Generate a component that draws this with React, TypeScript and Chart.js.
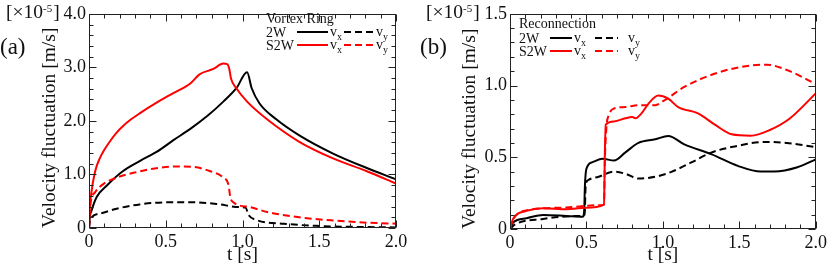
import React, { useEffect, useRef } from "react";
import { Chart, registerables } from "chart.js";

Chart.register(...registerables);

// ---------- Panel (a): Vortex Ring ----------
const tA_2W_vx = [0, 0.005, 0.017, 0.05, 0.115, 0.22, 0.33, 0.44, 0.55, 0.66, 0.77, 0.875, 0.96, 1.03, 1.06, 1.11, 1.22, 1.37, 1.59, 1.81, 2.0];
const vA_2W_vx = [0, 0.2, 0.33, 0.58, 0.79, 1.06, 1.25, 1.42, 1.64, 1.85, 2.09, 2.36, 2.61, 2.91, 2.61, 2.33, 2.03, 1.73, 1.39, 1.12, 0.91];

const tA_2W_vy = [0, 0.007, 0.07, 0.18, 0.33, 0.51, 0.68, 0.83, 0.98, 1.02, 1.04, 1.09, 1.27, 1.48, 2.0];
const vA_2W_vy = [0, 0.15, 0.27, 0.36, 0.44, 0.48, 0.48, 0.45, 0.39, 0.38, 0.24, 0.15, 0.08, 0.04, 0.01];

const tA_S2W_vx = [0, 0.005, 0.015, 0.04, 0.07, 0.1, 0.137, 0.18, 0.22, 0.27, 0.33, 0.44, 0.55, 0.66, 0.72, 0.81, 0.875, 0.9, 0.914, 0.925, 0.96, 1.03, 1.16, 1.37, 1.59, 1.81, 2.0];
const vA_S2W_vx = [0, 0.35, 0.65, 1.06, 1.3, 1.46, 1.62, 1.78, 1.9, 2.02, 2.14, 2.34, 2.52, 2.7, 2.87, 2.97, 3.07, 3.06, 2.97, 2.79, 2.61, 2.36, 2.03, 1.61, 1.3, 1.06, 0.83];

const tA_S2W_vy = [0, 0.007, 0.04, 0.093, 0.18, 0.29, 0.4, 0.57, 0.68, 0.79, 0.875, 0.91, 0.92, 0.94, 1.05, 1.16, 1.37, 1.59, 1.81, 2.0];
const vA_S2W_vy = [0, 0.39, 0.67, 0.82, 0.94, 1.03, 1.1, 1.15, 1.14, 1.06, 0.94, 0.79, 0.58, 0.48, 0.39, 0.3, 0.2, 0.14, 0.1, 0.08];

// ---------- Panel (b): Reconnection ----------
const tB_2W_vx = [0, 0.02, 0.108, 0.216, 0.367, 0.475, 0.485, 0.49, 0.5, 0.54, 0.605, 0.68, 0.755, 0.84, 0.95, 1.035, 1.14, 1.32, 1.49, 1.64, 1.73, 1.88, 2.0];
const vB_2W_vx = [0, 0.046, 0.075, 0.098, 0.091, 0.085, 0.12, 0.3, 0.42, 0.466, 0.49, 0.477, 0.534, 0.6, 0.625, 0.648, 0.59, 0.52, 0.44, 0.4, 0.4, 0.43, 0.485];

const tB_2W_vy = [0, 0.03, 0.216, 0.43, 0.488, 0.495, 0.51, 0.58, 0.68, 0.755, 0.84, 0.95, 1.06, 1.19, 1.32, 1.49, 1.66, 1.81, 2.0];
const vB_2W_vy = [0, 0.03, 0.07, 0.09, 0.095, 0.3, 0.34, 0.364, 0.4, 0.385, 0.352, 0.364, 0.4, 0.466, 0.534, 0.58, 0.607, 0.6, 0.57];

const tB_S2W_vx = [0, 0.02, 0.108, 0.216, 0.367, 0.496, 0.615, 0.62, 0.626, 0.68, 0.755, 0.8, 0.82, 0.86, 0.906, 0.97, 1.035, 1.1, 1.23, 1.34, 1.45, 1.575, 1.7, 1.83, 2.0];
const vB_S2W_vx = [0, 0.07, 0.126, 0.144, 0.137, 0.148, 0.17, 0.5, 0.727, 0.75, 0.772, 0.78, 0.772, 0.806, 0.874, 0.93, 0.908, 0.85, 0.806, 0.727, 0.66, 0.65, 0.69, 0.77, 0.945];

const tB_S2W_vy = [0, 0.02, 0.15, 0.367, 0.58, 0.615, 0.62, 0.63, 0.647, 0.68, 0.755, 0.84, 0.95, 1.01, 1.056, 1.14, 1.36, 1.575, 1.68, 1.83, 2.0];
const vB_S2W_vy = [0, 0.07, 0.137, 0.15, 0.166, 0.17, 0.45, 0.7, 0.795, 0.84, 0.85, 0.863, 0.863, 0.897, 0.93, 0.99, 1.09, 1.14, 1.145, 1.1, 1.01];

// ---------- Axis / label text ----------
const xTitle = "t [s]";
const yTitle = "Velocity fluctuation [m/s]";
const legendRowLabels = ["2W", "S2W"];
const panelLabels = ["(a)", "(b)"];
const legendTitles = ["Vortex Ring", "Reconnection"];

const SERIF = '"Liberation Serif", "Times New Roman", serif';
const RED = "#ff0000";
const BLACK = "#000000";

const pts = (t: number[], v: number[]) => t.map((x, i) => ({ x, y: v[i] }));

const tickLabel = (v: number) => (Math.abs(v) < 1e-9 ? "0" : Number(v).toFixed(1));

const decorPlugin = {
  id: "decor",
  afterDraw(chart: any, _args: any, opts: any) {
    const { ctx, chartArea } = chart;
    const { left, right, top, bottom } = chartArea;
    const xs = chart.scales.x;
    const ys = chart.scales.y;
    ctx.save();
    // frame
    ctx.strokeStyle = "#222";
    ctx.lineWidth = 1;
    const L = Math.round(left) + 0.5;
    const R = Math.round(right) - 0.5;
    const T = Math.round(top) + 0.5;
    const B = Math.round(bottom) - 0.5;
    ctx.strokeRect(L, T, R - L, B - T);
    // inward ticks on all four sides
    ctx.beginPath();
    const nx = Math.round((xs.max - xs.min) / opts.xMinor);
    for (let i = 0; i <= nx; i++) {
      const v = xs.min + i * opts.xMinor;
      const major = Math.abs(v / opts.xMajor - Math.round(v / opts.xMajor)) < 1e-6;
      const len = major ? 7 : 4;
      const px = Math.round(xs.getPixelForValue(v)) + 0.5;
      ctx.moveTo(px, B);
      ctx.lineTo(px, B - len);
      ctx.moveTo(px, T);
      ctx.lineTo(px, T + len);
    }
    const ny = Math.round((ys.max - ys.min) / opts.yMinor);
    for (let i = 0; i <= ny; i++) {
      const v = ys.min + i * opts.yMinor;
      const major = Math.abs(v / opts.yMajor - Math.round(v / opts.yMajor)) < 1e-6;
      const len = major ? 7 : 4;
      const py = Math.round(ys.getPixelForValue(v)) + 0.5;
      ctx.moveTo(L, py);
      ctx.lineTo(L + len, py);
      ctx.moveTo(R, py);
      ctx.lineTo(R - len, py);
    }
    ctx.stroke();

    // panel label and exponent
    ctx.fillStyle = "#111";
    ctx.textBaseline = "alphabetic";
    ctx.textAlign = "left";
    ctx.font = `23px ${SERIF}`;
    ctx.fillText(opts.panel, 0, 54);
    ctx.font = `19.5px ${SERIF}`;
    let ex = 6;
    const base = "[\u00d710";
    ctx.fillText(base, ex, 18);
    ex += ctx.measureText(base).width;
    ctx.font = `11px ${SERIF}`;
    ctx.fillText("-5", ex, 12);
    ex += ctx.measureText("-5").width + 1;
    ctx.font = `19.5px ${SERIF}`;
    ctx.fillText("]", ex, 18);

    // legend
    const lg = opts.legend;
    ctx.font = `14px ${SERIF}`;
    ctx.textBaseline = "middle";
    ctx.fillText(lg.title, lg.x, lg.titleY);
    lg.rows.forEach((row: any, r: number) => {
      const yRow = lg.rowY[r];
      ctx.font = `14px ${SERIF}`;
      ctx.fillStyle = "#111";
      ctx.textBaseline = "middle";
      ctx.fillText(row.label, lg.x, yRow + 1);
      const drawSample = (dsIndex: number, x0: number, x1: number, sub: string, tx: number) => {
        const ds = chart.data.datasets[dsIndex];
        ctx.save();
        ctx.strokeStyle = ds.borderColor;
        ctx.lineWidth = 2;
        ctx.setLineDash(ds.borderDash || []);
        ctx.beginPath();
        ctx.moveTo(x0, yRow);
        ctx.lineTo(x1, yRow);
        ctx.stroke();
        ctx.restore();
        ctx.fillStyle = "#111";
        ctx.font = `14px ${SERIF}`;
        ctx.textBaseline = "middle";
        ctx.fillText("v", tx, yRow);
        const w = ctx.measureText("v").width;
        ctx.font = `10px ${SERIF}`;
        ctx.fillText(sub, tx + w, yRow + 5);
      };
      drawSample(row.solid, lg.solid[0], lg.solid[1], "x", lg.vxX);
      drawSample(row.dashed, lg.dashed[0], lg.dashed[1], "y", lg.vyX);
    });
    ctx.restore();
  },
};

type PanelSpec = {
  datasets: any[];
  yMax: number;
  yStep: number;
  yMinor: number;
  padRight: number;
  yWidth: number;
  xHeight: number;
  panel: string;
  legend: any;
};

function makeConfig(p: PanelSpec): any {
  const tickFont = { family: SERIF, size: 18 };
  const titleFont = { family: SERIF, size: 19.5 };
  return {
    type: "line",
    data: { datasets: p.datasets },
    options: {
      animation: false,
      responsive: false,
      devicePixelRatio: 1,
      layout: { autoPadding: false, padding: { left: 0, top: 8, right: p.padRight, bottom: 0 } },
      plugins: {
        legend: { display: false },
        tooltip: { enabled: false },
        decor: {
          xMinor: 0.1,
          xMajor: 0.5,
          yMinor: p.yMinor,
          yMajor: p.yStep,
          panel: p.panel,
          legend: p.legend,
        },
      },
      elements: {
        point: { radius: 0 },
        line: { borderWidth: 2, cubicInterpolationMode: "monotone", fill: false },
      },
      scales: {
        x: {
          type: "linear",
          min: 0,
          max: 2,
          ticks: { stepSize: 0.5, callback: tickLabel, font: tickFont, color: "#111", padding: 3, maxRotation: 0, autoSkip: false },
          grid: { display: false, drawTicks: false },
          border: { display: false },
          title: { display: true, text: xTitle, font: titleFont, color: "#111", padding: { top: 0, bottom: 6 } },
          afterFit: (s: any) => {
            s.height = p.xHeight;
          },
        },
        y: {
          type: "linear",
          min: 0,
          max: p.yMax,
          ticks: { stepSize: p.yStep, callback: tickLabel, font: tickFont, color: "#111", padding: 3, autoSkip: false },
          grid: { display: false, drawTicks: false },
          border: { display: false },
          title: { display: true, text: yTitle, align: "start", font: titleFont, color: "#111", padding: { top: 38, bottom: 0 } },
          afterFit: (s: any) => {
            s.width = p.yWidth;
          },
        },
      },
    },
    plugins: [decorPlugin],
  };
}

function ds(data: any[], color: string, dashed: boolean) {
  return {
    data,
    borderColor: color,
    backgroundColor: color,
    borderWidth: 2,
    borderDash: dashed ? [7, 4] : [],
  };
}

const panelA: PanelSpec = {
  datasets: [
    ds(pts(tA_S2W_vx, vA_S2W_vx), RED, false),
    ds(pts(tA_S2W_vy, vA_S2W_vy), RED, true),
    ds(pts(tA_2W_vx, vA_2W_vx), BLACK, false),
    ds(pts(tA_2W_vy, vA_2W_vy), BLACK, true),
  ],
  yMax: 4,
  yStep: 1,
  yMinor: 0.2,
  padRight: 24,
  yWidth: 89,
  xHeight: 45,
  panel: panelLabels[0],
  legend: {
    title: legendTitles[0],
    x: 266,
    titleY: 19,
    rowY: [32, 45],
    solid: [297, 328],
    dashed: [344, 374],
    vxX: 330,
    vyX: 376,
    rows: [
      { label: legendRowLabels[0], solid: 2, dashed: 3 },
      { label: legendRowLabels[1], solid: 0, dashed: 1 },
    ],
  },
};

const panelB: PanelSpec = {
  datasets: [
    ds(pts(tB_S2W_vx, vB_S2W_vx), RED, false),
    ds(pts(tB_S2W_vy, vB_S2W_vy), RED, true),
    ds(pts(tB_2W_vx, vB_2W_vx), BLACK, false),
    ds(pts(tB_2W_vy, vB_2W_vy), BLACK, true),
  ],
  yMax: 1.5,
  yStep: 0.5,
  yMinor: 0.1,
  padRight: 11,
  yWidth: 90,
  xHeight: 44,
  panel: panelLabels[1],
  legend: {
    title: legendTitles[1],
    x: 99,
    titleY: 24,
    rowY: [38, 51],
    solid: [130, 152],
    dashed: [175, 198],
    vxX: 154,
    vyX: 208,
    rows: [
      { label: legendRowLabels[0], solid: 2, dashed: 3 },
      { label: legendRowLabels[1], solid: 0, dashed: 1 },
    ],
  },
};

function Panel({ spec, left, width }: { spec: PanelSpec; left: number; width: number }) {
  const ref = useRef<HTMLCanvasElement | null>(null);
  useEffect(() => {
    if (!ref.current) return;
    const chart = new Chart(ref.current, makeConfig(spec));
    return () => chart.destroy();
  }, [spec]);
  return (
    <div style={{ position: "absolute", left, top: 0, width, height: 273 }}>
      <canvas ref={ref} width={width} height={273} style={{ display: "block", width, height: 273 }} />
    </div>
  );
}

export default function App() {
  return (
    <div style={{ position: "fixed", left: 0, top: 0, width: 830, height: 273, background: "#fff", overflow: "hidden" }}>
      <Panel spec={panelA} left={0} width={420} />
      <Panel spec={panelB} left={420} width={410} />
    </div>
  );
}
